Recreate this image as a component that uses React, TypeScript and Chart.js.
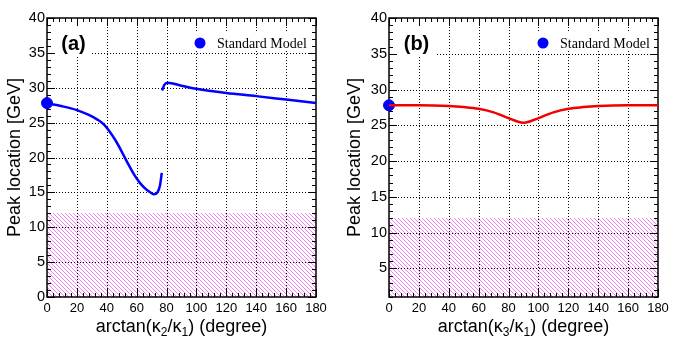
import React, { useEffect, useRef } from "react";
import { Chart, registerables } from "chart.js";
Chart.register(...registerables);

// ---- data ----
const xTicks = [0, 20, 40, 60, 80, 100, 120, 140, 160, 180];
const yTicksA = [0, 5, 10, 15, 20, 25, 30, 35, 40];
const yTicksB = [5, 10, 15, 20, 25, 30, 35, 40];

// panel (a): arctan(k2/k1)
const angA1 = [0, 10, 20, 28, 34, 38, 42, 46, 50, 54, 58, 62, 66, 69.5, 71.6, 74, 75.6, 76.8];
const peakA1 = [27.75, 27.35, 26.8, 26.1, 25.4, 24.75, 23.7, 22.4, 20.85, 19.2, 17.65, 16.4, 15.5, 14.95, 14.72, 15.05, 16.0, 17.8];
const angA2 = [77, 78.5, 80.5, 90, 100, 120, 140, 160, 180];
const peakA2 = [29.6, 30.4, 30.7, 30.3, 29.85, 29.25, 28.8, 28.3, 27.8];

// panel (b): arctan(k3/k1)
const angB = [0, 20, 40, 50, 60, 70, 80, 85, 90, 95, 100, 110, 120, 130, 140, 160, 180];
const peakB = [27.8, 27.8, 27.7, 27.55, 27.3, 26.8, 26.0, 25.6, 25.35, 25.6, 26.0, 26.8, 27.3, 27.55, 27.7, 27.8, 27.8];

// Standard Model point
const smAngle = 0;
const smPeak = 27.8;
const hatchTop = 12;
const legendText = "Standard Model";

const pts = (xs: number[], ys: number[]) => xs.map((x, i) => ({ x, y: ys[i] }));

type Cfg = {
  x: number; w: number; left: number; right: number; yMin: number; yTicks: number[];
  label: string; sub: string; labelBox: [number, number, number, number];
  legendBox: [number, number, number, number]; legendDot: number; datasets: any[];
};

const SANS = "'Liberation Sans', Arial, Helvetica, sans-serif";

function makePlugin(cfg: Cfg) {
  return {
    id: "rootFrame",
    beforeDatasetsDraw(chart: any) {
      const { ctx, chartArea: a, scales } = chart;
      const xs = scales.x, ys = scales.y;
      ctx.save();
      // hatch (crisp 1px diagonal lines)
      const yTop = Math.round(ys.getPixelForValue(hatchTop));
      const L0 = Math.round(a.left), B0 = Math.round(a.bottom), R0 = Math.round(a.right);
      ctx.fillStyle = "#f284f2";
      for (let py = yTop; py < B0; py++) {
        const start = L0 + ((((py - L0) % 4) + 4) % 4);
        for (let px = start; px < R0; px += 4) ctx.fillRect(px, py, 1, 1);
      }
      // dotted grid
      ctx.beginPath();
      ctx.setLineDash([1, 2]);
      ctx.strokeStyle = "#000";
      ctx.lineWidth = 1;
      for (const t of xTicks) {
        if (t <= xs.min || t >= xs.max) continue;
        const px = Math.round(xs.getPixelForValue(t)) + 0.5;
        ctx.moveTo(px, a.top);
        ctx.lineTo(px, a.bottom);
      }
      for (const t of cfg.yTicks) {
        if (t <= ys.min || t >= ys.max) continue;
        const py = Math.round(ys.getPixelForValue(t)) + 0.5;
        ctx.moveTo(a.left, py);
        ctx.lineTo(a.right, py);
      }
      ctx.stroke();
      ctx.setLineDash([]);
      // white boxes
      ctx.fillStyle = "#fff";
      const lb = cfg.labelBox, gb = cfg.legendBox;
      ctx.fillRect(lb[0], lb[1], lb[2] - lb[0], lb[3] - lb[1]);
      ctx.fillRect(gb[0], gb[1], gb[2] - gb[0], gb[3] - gb[1]);
      // ticks
      ctx.strokeStyle = "#000";
      ctx.lineWidth = 1;
      ctx.beginPath();
      for (let v = xs.min; v <= xs.max + 1e-6; v += 4) {
        const major = Math.abs(v % 20) < 1e-6;
        const L = major ? 8 : 4;
        const px = Math.round(xs.getPixelForValue(v)) + 0.5;
        ctx.moveTo(px, a.bottom); ctx.lineTo(px, a.bottom - L);
        ctx.moveTo(px, a.top); ctx.lineTo(px, a.top + L);
      }
      for (let v = Math.ceil(ys.min); v <= ys.max + 1e-6; v += 1) {
        const major = v % 5 === 0;
        const L = major ? 8 : 4;
        const py = Math.round(ys.getPixelForValue(v)) + 0.5;
        ctx.moveTo(a.left, py); ctx.lineTo(a.left + L, py);
        ctx.moveTo(a.right, py); ctx.lineTo(a.right - L, py);
      }
      ctx.stroke();
      // frame
      ctx.lineWidth = 1.5;
      ctx.strokeRect(a.left, a.top, a.right - a.left, a.bottom - a.top);
      // panel label
      ctx.fillStyle = "#000";
      ctx.font = `bold 20px ${SANS}`;
      ctx.textAlign = "center";
      ctx.textBaseline = "middle";
      ctx.fillText(cfg.label, (lb[0] + lb[2]) / 2 + 4, 44);
      // legend
      ctx.beginPath();
      ctx.fillStyle = "#0000ff";
      ctx.arc(cfg.legendDot, 43, 5.5, 0, Math.PI * 2);
      ctx.fill();
      ctx.fillStyle = "#000";
      ctx.font = "14px 'Liberation Serif', 'Times New Roman', serif";
      ctx.textAlign = "left";
      ctx.fillText(legendText, cfg.legendDot + 17, 44);
      // axis titles
      ctx.font = `18px ${SANS}`;
      ctx.save();
      ctx.translate(15.5, (a.top + a.bottom) / 2);
      ctx.rotate(-Math.PI / 2);
      ctx.textAlign = "center";
      ctx.textBaseline = "middle";
      ctx.fillText("Peak location [GeV]", 0, 0);
      ctx.restore();
      const parts: [string, boolean][] = [
        ["arctan(\u03ba", false], [cfg.sub, true], ["/\u03ba", false], ["1", true], [") (degree)", false],
      ];
      const big = `18px ${SANS}`, small = `12px ${SANS}`;
      let tw = 0;
      for (const [t, s] of parts) { ctx.font = s ? small : big; tw += ctx.measureText(t).width; }
      let cx = (a.left + a.right) / 2 - tw / 2;
      ctx.textAlign = "left";
      ctx.textBaseline = "alphabetic";
      for (const [t, s] of parts) {
        ctx.font = s ? small : big;
        ctx.fillText(t, cx, s ? 336 : 332);
        cx += ctx.measureText(t).width;
      }
      ctx.restore();
    },
  };
}

function Panel({ cfg }: { cfg: Cfg }) {
  const ref = useRef<HTMLCanvasElement>(null);
  useEffect(() => {
    const chart = new Chart(ref.current as HTMLCanvasElement, {
      type: "line",
      data: { datasets: cfg.datasets },
      options: {
        animation: false,
        responsive: false,
        layout: { padding: { top: 18, right: cfg.w - cfg.right, bottom: 0, left: 0 } },
        plugins: { legend: { display: false }, tooltip: { enabled: false } },
        scales: {
          x: {
            type: "linear", min: 0, max: 180,
            afterBuildTicks: (s: any) => { s.ticks = xTicks.map((v) => ({ value: v })); },
            afterFit: (s: any) => { s.height = 345 - 297; },
            grid: { display: false, drawTicks: false },
            border: { display: false },
            ticks: { color: "#000", font: { family: SANS, size: 13 }, padding: 4, maxRotation: 0, autoSkip: false },
          },
          y: {
            type: "linear", min: cfg.yMin, max: 40,
            afterBuildTicks: (s: any) => { s.ticks = cfg.yTicks.map((v) => ({ value: v })); },
            afterFit: (s: any) => { s.width = cfg.left; },
            grid: { display: false, drawTicks: false },
            border: { display: false },
            ticks: { color: "#000", font: { family: SANS, size: 14.5 }, padding: 2, autoSkip: false },
          },
        },
      } as any,
      plugins: [makePlugin(cfg)],
    });
    return () => chart.destroy();
  }, []);
  return (
    <canvas ref={ref} width={cfg.w} height={345}
      style={{ position: "absolute", left: cfg.x, top: 0, width: cfg.w, height: 345 }} />
  );
}

const lineStyle = (color: string) => ({
  borderColor: color, borderWidth: 2.5, pointRadius: 0, fill: false,
  cubicInterpolationMode: "monotone", showLine: true,
});
const smMarker = {
  data: [{ x: smAngle, y: smPeak }], showLine: false, pointRadius: 5.5,
  pointBackgroundColor: "#0000ff", pointBorderColor: "#0000ff", clip: false,
};

const cfgA: Cfg = {
  x: 0, w: 340, left: 47, right: 316, yMin: 0, yTicks: yTicksA, label: "(a)", sub: "2",
  labelBox: [48, 19, 91, 55], legendBox: [188, 32, 306, 50], legendDot: 200,
  datasets: [
    { data: pts(angA1, peakA1), ...lineStyle("#0000ff") },
    { data: pts(angA2, peakA2), ...lineStyle("#0000ff") },
    smMarker,
  ],
};
const cfgB: Cfg = {
  x: 340, w: 342, left: 49, right: 318, yMin: 1, yTicks: yTicksB, label: "(b)", sub: "3",
  labelBox: [50, 19, 95, 56], legendBox: [191, 32, 310, 50], legendDot: 203,
  datasets: [
    { data: pts(angB, peakB), ...lineStyle("#f00000") },
    smMarker,
  ],
};

export default function App() {
  return (
    <div style={{ position: "absolute", left: 0, top: 0, width: 682, height: 345, background: "#fff" }}>
      <Panel cfg={cfgA} />
      <Panel cfg={cfgB} />
    </div>
  );
}
